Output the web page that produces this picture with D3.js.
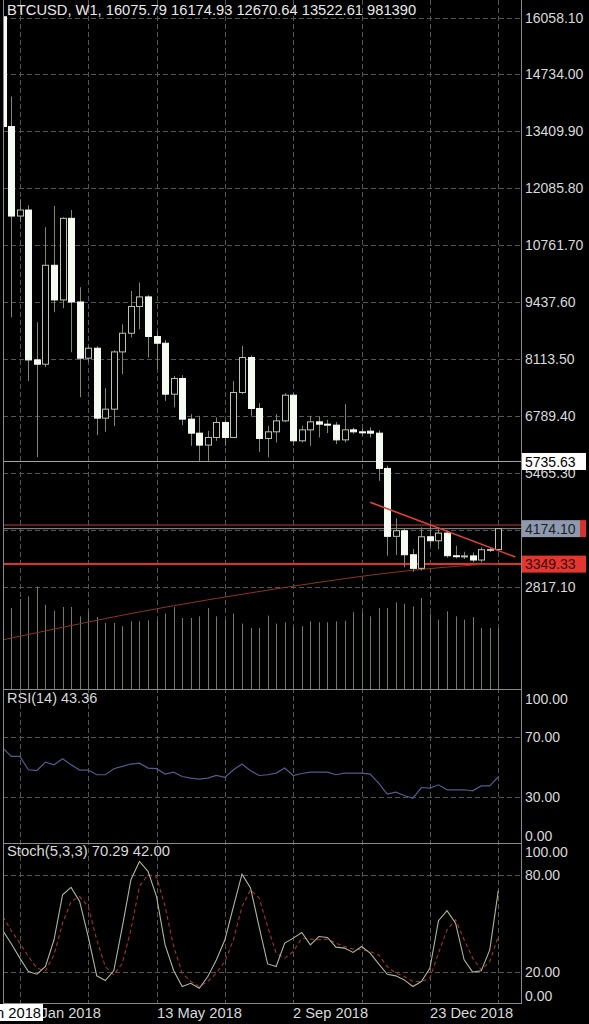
<!DOCTYPE html>
<html>
<head>
<meta charset="utf-8">
<script src="https://cdn.jsdelivr.net/npm/d3@7"></script>
<style>
  html, body { margin: 0; padding: 0; background: #000; }
  svg { display: block; }
  text { font-family: "Liberation Sans", Arial, sans-serif; }
</style>
</head>
<body>
<div id="chart"></div>
<script>
// weekly BTCUSD candles
const opens  = [16075.79, 13522.61, 11442, 11582, 8097, 7997, 10297, 9491, 11389, 9444,
                8137, 8369, 6743, 6952, 8283, 8717, 9338, 9562, 8641, 8485,
                7300, 7665, 6720, 6394, 6116, 6294, 6643, 6294, 7340, 8153,
                6968, 6271, 6425, 6680, 7277, 6216, 6471, 6657, 6603, 6580,
                6238, 6471, 6425, 6440, 6394, 5574, 3995, 4125, 3567, 3251,
                3985, 3892, 4071, 3544, 3530, 3540, 3444, 3684, 3690];
const highs  = [16174.93, 14223, 11830, 11693, 8973, 11180, 11675, 11412, 11582, 9786,
                8415, 8415, 7440, 8322, 8926, 9700, 9895, 9600, 8772, 8560,
                7725, 7740, 6836, 6797, 6448, 6759, 6700, 7610, 8423, 8200,
                7091, 6564, 6836, 7324, 7320, 6564, 6797, 6780, 6704, 6650,
                7068, 6520, 6500, 6530, 6460, 5640, 4413, 4180, 3700, 4204,
                4242, 4210, 4120, 3776, 3637, 3620, 3738, 3740, 4190];
const lows   = [12670.64, 9089, 11300, 7609, 5837, 7928, 9205, 9298, 8276, 7231,
                8044, 6348, 6425, 6557, 7765, 8620, 8810, 8153, 7881, 7145,
                6991, 6580, 6100, 5751, 5751, 6216, 6100, 6280, 7300, 6797,
                5960, 5830, 6180, 6650, 6100, 6180, 6100, 6294, 6394, 6139,
                6180, 6380, 6340, 6294, 5287, 3544, 3560, 3274, 3171, 3200,
                3776, 3700, 3500, 3480, 3468, 3391, 3391, 3630, 3650];
const closes = [13522.61, 11442, 11582, 8097, 7997, 10297, 9491, 11389, 9444, 8137,
                8369, 6743, 6952, 8283, 8717, 9338, 9562, 8641, 8485, 7300,
                7665, 6720, 6394, 6116, 6294, 6643, 6294, 7340, 8153, 6968,
                6271, 6425, 6680, 7277, 6216, 6471, 6657, 6603, 6580, 6238,
                6471, 6425, 6420, 6394, 5574, 3995, 4125, 3567, 3251, 3985,
                3892, 4071, 3544, 3530, 3540, 3444, 3684, 3690, 4174.10];
const volumes = [981390, 810000, 900000, 926000, 1025000, 843000, 783000, 820000, 820000, 727000,
                 777000, 720000, 660000, 660000, 628000, 677000, 677000, 687000, 684000, 754000,
                 820000, 710000, 710000, 727000, 810000, 727000, 687000, 754000, 654000, 610000,
                 610000, 734000, 654000, 667000, 628000, 628000, 677000, 667000, 667000, 677000,
                 684000, 767000, 760000, 727000, 810000, 810000, 866000, 853000, 826000, 910000,
                 754000, 694000, 777000, 727000, 694000, 720000, 610000, 610000, 610000];
const movingAvg = [1589, 1631, 1672, 1714, 1755, 1796, 1838, 1879, 1920, 1961,
                   2002, 2042, 2082, 2122, 2161, 2199, 2237, 2274, 2310, 2346,
                   2381, 2416, 2450, 2484, 2518, 2551, 2584, 2616, 2648, 2680,
                   2712, 2743, 2774, 2805, 2836, 2866, 2896, 2925, 2954, 2982,
                   3010, 3038, 3065, 3091, 3116, 3140, 3163, 3185, 3206, 3226,
                   3245, 3263, 3280, 3296, 3311, 3325, 3338, 3350, 3361];
const rsiValues = [62.5, 56.9, 56.9, 48, 47.5, 53.1, 51.3, 55.3, 51.3, 47.8,
                   47.8, 44.7, 44.7, 48.7, 50.2, 51.8, 52.4, 49.1, 48.7, 45.1,
                   46.4, 43.5, 42.4, 41.8, 42.4, 44.2, 42.9, 48, 51.8, 47.3,
                   44.2, 44.7, 45.8, 49.1, 44.2, 45.5, 46.4, 46.4, 46.4, 44.7,
                   45.8, 45.8, 45.8, 45.1, 39.1, 31.8, 33.1, 30.9, 29.1, 36.2,
                   35.8, 38, 34.7, 34.7, 34.7, 34, 37.3, 37.3, 43.36];
const stochK = [45.5, 37.3, 28.4, 20.1, 18.4, 23.2, 39.8, 67.7, 72.3, 63.6,
                41.8, 17.4, 14.5, 20.7, 48, 77, 88.4, 82.2, 66.6, 36.6,
                20.7, 10.8, 12.8, 9.7, 17, 27.3, 39.8, 60.4, 80.5, 71.9,
                48, 24.8, 23.2, 37.7, 40.8, 44.3, 36.6, 41.8, 41.2, 35.2,
                34.6, 31.9, 35.6, 31.5, 24.8, 18.4, 17.4, 14.9, 10.8, 13.9,
                22.2, 51.6, 57.8, 50.1, 27.3, 19.7, 20.5, 33.5, 70.29];
const stochD = [54.2, 45.5, 37.7, 29.4, 22.2, 20.7, 30.4, 50.1, 63.6, 66.6,
                60.4, 39.8, 23.2, 18, 25.3, 46, 72.9, 80.1, 78.7, 60.4,
                35.6, 19.1, 13.9, 10.8, 13.9, 19.1, 26.3, 39.8, 60.4, 70.8,
                65.7, 48, 31.5, 28.4, 32.5, 40.8, 40.2, 39.8, 40.2, 37.7,
                35.6, 34, 33.5, 32.5, 30.4, 23.2, 19.1, 17, 13.9, 13.9,
                16, 31.5, 46, 52.2, 39.8, 28.4, 21.1, 26.3, 42];

const priceTicks = [16058.10, 14734.00, 13409.90, 12085.80, 10761.70, 9437.60,
                    8113.50, 6789.40, 5465.30, 4141.20, 2817.10];
const rsiTicks = [100, 70, 30, 0];
const rsiLevels = [70, 30];
const stochTicks = [100, 80, 20, 0];
const stochLevels = [80, 20];
const gridBars = [2, 10, 18, 26, 34, 42, 50, 58];
const dateTickBars = [2, 18, 34, 50];
const dateTickLabels = ["21 Jan 2018", "13 May 2018", "2 Sep 2018", "23 Dec 2018"];
const cursorDate = "14 Jan 2018";

const levelPrices = [5735.63, 4258, 4174.10, 3349.33];
const trendBars = [43, 60];
const trendPrices = [4787, 3514];

const title = "BTCUSD, W1, 16075.79 16174.93 12670.64 13522.61 981390";
const rsiTitle = "RSI(14) 43.36";
const stochTitle = "Stoch(5,3,3) 70.29 42.00";

// ---- layout ----
const W = 589, H = 1024;
const left = 3, right = 521;
const mainTop = 0, mainBottom = 689, rsiBottom = 843, stochBottom = 1003;

const candles = opens.map(function(o, i) {
    return {i: i, o: o, h: highs[i], l: lows[i], c: closes[i], v: volumes[i]};
});

const x = d3.scaleLinear().domain([0, 58]).range([2.76, 498.3]);
const yPrice = d3.scaleLinear().domain([2817.1, 16058.1]).range([587, 17.5]);
const yVol = d3.scaleLinear().domain([0, 1000000]).range([mainBottom, mainBottom - 100]);
const yRsi = d3.scaleLinear().domain([0, 100]).range([842, 691.5]);
const yStoch = d3.scaleLinear().domain([0, 100]).range([1003.9, 842.7]);

const gridColor = "#545454", frameColor = "#8a8a8a", labelColor = "#d9d9d9";
const wickColor = "#7c8b6d";

let svg = d3.select("#chart")
    .append("svg")
    .attr("width", W)
    .attr("height", H)
    .style("background", "#000");

let defs = svg.append("defs");
function clip(id, y0, y1) {
    defs.append("clipPath").attr("id", id)
        .append("rect").attr("x", left).attr("y", y0)
        .attr("width", right - left).attr("height", y1 - y0);
}
clip("clipMain", mainTop, mainBottom);
clip("clipRsi", mainBottom, rsiBottom);
clip("clipStoch", rsiBottom, stochBottom);

// ---- grid ----
let grid = svg.append("g")
    .attr("stroke", gridColor)
    .attr("stroke-width", 1)
    .attr("stroke-dasharray", "5,3");
grid.selectAll(".vgrid")
    .data(gridBars)
    .enter()
    .append("line")
    .attr("x1", function(d) { return Math.round(x(d)) + 0.5; })
    .attr("x2", function(d) { return Math.round(x(d)) + 0.5; })
    .attr("y1", 0)
    .attr("y2", stochBottom);
grid.selectAll(".pgrid")
    .data(priceTicks)
    .enter()
    .append("line")
    .attr("x1", left).attr("x2", right)
    .attr("y1", function(d) { return Math.round(yPrice(d)) + 0.5; })
    .attr("y2", function(d) { return Math.round(yPrice(d)) + 0.5; });
grid.selectAll(".rgrid")
    .data(rsiLevels)
    .enter()
    .append("line")
    .attr("x1", left).attr("x2", right)
    .attr("y1", function(d) { return Math.round(yRsi(d)) + 0.5; })
    .attr("y2", function(d) { return Math.round(yRsi(d)) + 0.5; });
grid.selectAll(".sgrid")
    .data(stochLevels)
    .enter()
    .append("line")
    .attr("x1", left).attr("x2", right)
    .attr("y1", function(d) { return Math.round(yStoch(d)) + 0.5; })
    .attr("y2", function(d) { return Math.round(yStoch(d)) + 0.5; });

// ---- main panel ----
let main = svg.append("g").attr("clip-path", "url(#clipMain)");

// volumes
main.selectAll(".vol")
    .data(candles)
    .enter()
    .append("line")
    .attr("x1", function(d) { return Math.round(x(d.i)) + 0.5; })
    .attr("x2", function(d) { return Math.round(x(d.i)) + 0.5; })
    .attr("y1", yVol(0))
    .attr("y2", function(d) { return yVol(d.v); })
    .attr("stroke", "#6f7e62")
    .attr("stroke-width", 1);

// horizontal price levels
const levelStyles = [
    {stroke: "#a8a8a8", width: 1},
    {stroke: "#b4403c", width: 1},
    {stroke: "#8e8e8e", width: 1},
    {stroke: "#e3302b", width: 2}
];
main.selectAll(".level")
    .data(levelPrices)
    .enter()
    .append("line")
    .attr("x1", left).attr("x2", right)
    .attr("y1", function(d) { return yPrice(d); })
    .attr("y2", function(d) { return yPrice(d); })
    .attr("stroke", function(d, i) { return levelStyles[i].stroke; })
    .attr("stroke-width", function(d, i) { return levelStyles[i].width; });

// long moving average
main.append("path")
    .datum(movingAvg)
    .attr("fill", "none")
    .attr("stroke", "#8e3526")
    .attr("stroke-width", 1)
    .attr("d", d3.line()
        .x(function(d, i) { return x(i); })
        .y(function(d) { return yPrice(d); }));

// wicks
main.selectAll(".wick")
    .data(candles)
    .enter()
    .append("line")
    .attr("x1", function(d) { return Math.round(x(d.i)) + 0.5; })
    .attr("x2", function(d) { return Math.round(x(d.i)) + 0.5; })
    .attr("y1", function(d) { return yPrice(d.h); })
    .attr("y2", function(d) { return yPrice(d.l); })
    .attr("stroke", wickColor)
    .attr("stroke-width", 1);

// bodies: bearish filled white, bullish hollow
main.selectAll(".body")
    .data(candles)
    .enter()
    .append("rect")
    .attr("x", function(d) { return Math.round(x(d.i)) - 2.5; })
    .attr("width", 6)
    .attr("y", function(d) { return yPrice(Math.max(d.o, d.c)); })
    .attr("height", function(d) { return Math.max(1, Math.abs(yPrice(d.o) - yPrice(d.c))); })
    .attr("fill", function(d) { return d.c < d.o ? "#f6fbf2" : "#000"; })
    .attr("stroke", function(d) { return d.c < d.o ? "#f6fbf2" : "#b9c4ab"; })
    .attr("stroke-width", 1);

// trend line
main.append("line")
    .attr("x1", x(trendBars[0])).attr("y1", yPrice(trendPrices[0]))
    .attr("x2", x(trendBars[1])).attr("y2", yPrice(trendPrices[1]))
    .attr("stroke", "#e0423c")
    .attr("stroke-width", 1.6);

// ---- RSI panel ----
let rsiG = svg.append("g").attr("clip-path", "url(#clipRsi)");
rsiG.append("path")
    .datum(rsiValues)
    .attr("fill", "none")
    .attr("stroke", "#555a8e")
    .attr("stroke-width", 1.2)
    .attr("d", d3.line()
        .x(function(d, i) { return x(i); })
        .y(function(d) { return yRsi(d); }));

// ---- Stochastic panel ----
let stochG = svg.append("g").attr("clip-path", "url(#clipStoch)");
stochG.append("path")
    .datum(stochD)
    .attr("fill", "none")
    .attr("stroke", "#a3322e")
    .attr("stroke-width", 1.1)
    .attr("stroke-dasharray", "4,3")
    .attr("d", d3.line()
        .x(function(d, i) { return x(i); })
        .y(function(d) { return yStoch(d); }));
stochG.append("path")
    .datum(stochK)
    .attr("fill", "none")
    .attr("stroke", "#a9b89b")
    .attr("stroke-width", 1.1)
    .attr("d", d3.line()
        .x(function(d, i) { return x(i); })
        .y(function(d) { return yStoch(d); }));

// ---- frame ----
let frame = svg.append("g").attr("stroke", frameColor).attr("stroke-width", 1);
frame.append("line").attr("x1", left + 0.5).attr("x2", left + 0.5).attr("y1", 0).attr("y2", stochBottom);
frame.append("line").attr("x1", right + 0.5).attr("x2", right + 0.5).attr("y1", 0).attr("y2", stochBottom + 0.5);
[mainBottom, rsiBottom, stochBottom].forEach(function(yy) {
    frame.append("line").attr("x1", left).attr("x2", right + 1)
        .attr("y1", yy + 0.5).attr("y2", yy + 0.5);
});

// ---- axis labels ----
svg.selectAll(".ptick")
    .data(priceTicks)
    .enter()
    .append("text")
    .attr("x", 525)
    .attr("y", function(d) { return yPrice(d); })
    .attr("dy", "0.36em")
    .attr("font-size", "14px")
    .attr("fill", labelColor)
    .text(function(d) { return d.toFixed(2); });

function clampLabel(v, lo, hi) { return Math.max(lo, Math.min(hi, v)); }
svg.selectAll(".rtick")
    .data(rsiTicks)
    .enter()
    .append("text")
    .attr("x", 525)
    .attr("y", function(d) { return clampLabel(yRsi(d), 698.5, 835.7); })
    .attr("dy", "0.36em")
    .attr("font-size", "14px")
    .attr("fill", labelColor)
    .text(function(d) { return d.toFixed(2); });
svg.selectAll(".stick")
    .data(stochTicks)
    .enter()
    .append("text")
    .attr("x", 525)
    .attr("y", function(d) { return clampLabel(yStoch(d), 851.7, 995.7); })
    .attr("dy", "0.36em")
    .attr("font-size", "14px")
    .attr("fill", labelColor)
    .text(function(d) { return d.toFixed(2); });

// price level tags on the axis
const tagStyles = [
    {bg: "#ffffff", fg: "#000000", edge: null},
    null,
    {bg: "#8f99ad", fg: "#1c1f2a", edge: "#d8322c"},
    {bg: "#e2362f", fg: "#3a0b0b", edge: null}
];
levelPrices.forEach(function(p, i) {
    let s = tagStyles[i];
    if (!s) return;
    let yy = yPrice(p);
    svg.append("rect")
        .attr("x", 522).attr("y", yy - 8.5)
        .attr("width", s.edge ? 58 : 64).attr("height", 17)
        .attr("fill", s.bg);
    if (s.edge) {
        svg.append("rect")
            .attr("x", 580).attr("y", yy - 8.5)
            .attr("width", 6).attr("height", 17)
            .attr("fill", s.edge);
    }
    svg.append("text")
        .attr("x", 525).attr("y", yy)
        .attr("dy", "0.36em")
        .attr("font-size", "14px")
        .attr("fill", s.fg)
        .text(p.toFixed(2));
});

// date axis
svg.selectAll(".dtick")
    .data(dateTickBars)
    .enter()
    .append("text")
    .attr("x", function(d) { return Math.round(x(d)); })
    .attr("y", 1017.5)
    .attr("font-size", "14.7px")
    .attr("fill", labelColor)
    .text(function(d, i) { return dateTickLabels[i]; });

// crosshair date tag
svg.append("rect")
    .attr("x", 0).attr("y", 1004)
    .attr("width", 43).attr("height", 17)
    .attr("fill", "#ffffff");
svg.append("text")
    .attr("x", 41).attr("y", 1017.5)
    .attr("text-anchor", "end")
    .attr("font-size", "14.7px")
    .attr("fill", "#000")
    .text(cursorDate);

// panel titles
svg.append("text")
    .attr("x", 7).attr("y", 14.5)
    .attr("font-size", "14.7px")
    .attr("fill", "#e8e8e8")
    .text(title);
svg.append("text")
    .attr("x", 7).attr("y", 703)
    .attr("font-size", "14.5px")
    .attr("fill", labelColor)
    .text(rsiTitle);
svg.append("text")
    .attr("x", 7).attr("y", 856)
    .attr("font-size", "14.8px")
    .attr("fill", labelColor)
    .text(stochTitle);
</script>
</body>
</html>
